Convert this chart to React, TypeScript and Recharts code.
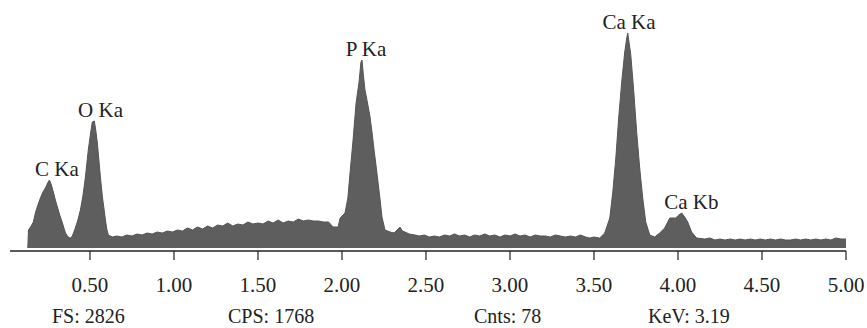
import { Area, AreaChart, ReferenceDot, XAxis, YAxis } from "recharts";

document.body.style.margin = "0";

const FONT = "Liberation Serif, DejaVu Serif, Tinos, serif";

// energy (keV) and counts
const energies = [
  0.13, 0.134, 0.15, 0.163, 0.175, 0.19, 0.205, 0.22, 0.235, 0.248, 0.259, 0.27, 0.282, 0.294, 0.306, 0.32,
  0.336, 0.354, 0.37, 0.383, 0.395, 0.413, 0.428, 0.443, 0.458, 0.473, 0.49, 0.503, 0.514, 0.526, 0.535,
  0.544, 0.553, 0.562, 0.574, 0.583, 0.592, 0.6, 0.609, 0.633, 0.66, 0.69, 0.72, 0.75, 0.78, 0.81, 0.84,
  0.87, 0.9, 0.93, 0.96, 0.99, 1.02, 1.05, 1.08, 1.11, 1.14, 1.17, 1.2, 1.23, 1.26, 1.29, 1.32, 1.35, 1.38,
  1.41, 1.44, 1.47, 1.5, 1.53, 1.56, 1.59, 1.62, 1.65, 1.68, 1.71, 1.74, 1.77, 1.8, 1.83, 1.86, 1.89, 1.92,
  1.947, 1.977, 1.989, 2.018, 2.035, 2.048, 2.066, 2.084, 2.101, 2.113, 2.119, 2.128, 2.137, 2.152, 2.167,
  2.18, 2.191, 2.203, 2.215, 2.227, 2.238, 2.256, 2.286, 2.31, 2.345, 2.36, 2.375, 2.4, 2.435, 2.46, 2.49,
  2.52, 2.55, 2.58, 2.61, 2.64, 2.67, 2.7, 2.73, 2.76, 2.79, 2.82, 2.85, 2.88, 2.91, 2.94, 2.97, 3.0, 3.03,
  3.06, 3.09, 3.12, 3.15, 3.18, 3.21, 3.24, 3.27, 3.3, 3.33, 3.36, 3.39, 3.42, 3.45, 3.475, 3.5, 3.534,
  3.564, 3.594, 3.612, 3.63, 3.647, 3.665, 3.683, 3.695, 3.701, 3.71, 3.719, 3.737, 3.754, 3.772, 3.79,
  3.808, 3.832, 3.861, 3.891, 3.921, 3.951, 3.986, 4.005, 4.022, 4.04, 4.058, 4.081, 4.111, 4.159, 4.19,
  4.22, 4.25, 4.28, 4.31, 4.34, 4.37, 4.4, 4.43, 4.46, 4.49, 4.52, 4.55, 4.58, 4.61, 4.64, 4.67, 4.7, 4.73,
  4.76, 4.79, 4.82, 4.85, 4.88, 4.91, 4.94, 4.97, 5.0,
];

const counts = [
  0, 18, 22, 26, 35, 43, 50, 56, 60, 65, 68, 63, 56, 48, 41, 33,
  25, 15, 11, 10, 12, 20, 28, 38, 52, 71, 98, 114, 126, 127, 117,
  105, 88, 71, 51, 40, 28, 19, 13, 11, 12, 11, 13, 12, 14, 13, 15,
  14, 16, 15, 17, 16, 18, 17, 20, 18, 21, 19, 22, 20, 23, 22, 25, 22, 24,
  23, 26, 24, 25, 24, 27, 25, 28, 25, 27, 26, 29, 27, 28, 27, 27, 26, 26,
  21, 21, 30, 35, 50, 75, 108, 145, 165, 186, 188, 172, 158, 145, 131,
  114, 98, 82, 65, 48, 31, 18, 16, 15, 21, 17, 16, 14, 13, 12, 13,
  11, 12, 11, 13, 12, 14, 12, 13, 11, 13, 12, 14, 12, 13, 11, 13, 12, 14,
  12, 13, 11, 13, 12, 12, 11, 13, 12, 11, 12, 11, 13, 11, 10, 11, 10,
  15, 30, 56, 90, 130, 166, 196, 210, 215, 204, 193, 156, 116, 80, 50,
  26, 13, 11, 15, 20, 30, 30, 33, 35, 31, 26, 16, 10, 9, 10,
  8, 9, 8, 9, 8, 9, 8, 9, 8, 9, 8, 9, 8, 9, 8, 8, 9, 8,
  9, 8, 9, 8, 9, 8, 10, 9, 9,
];

const peakNames = ["C Ka", "O Ka", "P Ka", "Ca Ka", "Ca Kb"];
const peakLabelKeV = [0.303, 0.563, 2.143, 3.708, 4.08];
const peakLabelCounts = [68, 127, 188, 215, 35];

const xTicks = [0.5, 1.0, 1.5, 2.0, 2.5, 3.0, 3.5, 4.0, 4.5, 5.0];

const footerTexts = ["FS: 2826", "CPS: 1768", "Cnts: 78", "KeV: 3.19"];
const footerX = [52, 228, 474, 648];

const data = energies.map((e, i) => ({ kev: e, counts: counts[i] }));

export default function App() {
  return (
    <div style={{ position: "relative", width: 867, height: 328, fontFamily: FONT }}>
      <AreaChart width={867} height={328} data={data} margin={{ top: 10, right: 21, left: 10, bottom: 0 }}>
        <XAxis
          dataKey="kev"
          type="number"
          domain={[0.024, 5.0]}
          ticks={xTicks}
          tickFormatter={(v: number) => v.toFixed(2)}
          allowDataOverflow
          height={77}
          tickSize={9}
          tickMargin={17}
          axisLine={{ stroke: "#222", strokeWidth: 1.5 }}
          tickLine={{ stroke: "#222", strokeWidth: 1.2 }}
          tick={{ fontSize: 21, fontFamily: FONT, fill: "#222" }}
        />
        <YAxis hide domain={[-3, 238]} allowDataOverflow />
        <Area
          type="linear"
          dataKey="counts"
          baseValue={0}
          fill="#5e5e5e"
          fillOpacity={1}
          stroke="#555"
          strokeWidth={1}
          isAnimationActive={false}
        />
        {peakNames.map((name, i) => (
          <ReferenceDot
            key={name}
            x={peakLabelKeV[i]}
            y={peakLabelCounts[i]}
            r={0}
            fill="none"
            stroke="none"
            label={{ value: name, position: "top", offset: 4, fill: "#222", fontSize: 21, fontFamily: FONT }}
          />
        ))}
      </AreaChart>
      <svg width={867} height={328} style={{ position: "absolute", left: 0, top: 0, pointerEvents: "none" }}>
        {footerTexts.map((t, i) => (
          <text key={t} x={footerX[i]} y={323} fontSize={20} fontFamily={FONT} fill="#222">
            {t}
          </text>
        ))}
      </svg>
    </div>
  );
}
